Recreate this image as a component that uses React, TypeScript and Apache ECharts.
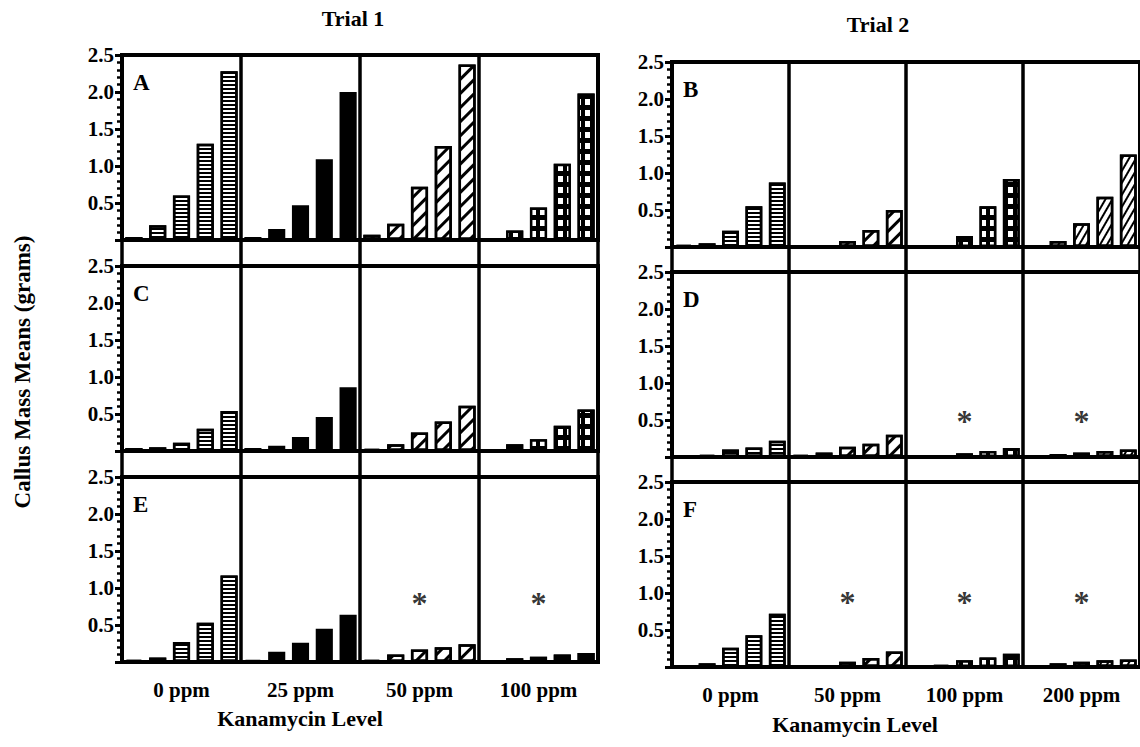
import React, { useEffect, useRef } from 'react';
import * as echarts from 'echarts';

// ---- data ----
const trial1Levels = ['0 ppm', '25 ppm', '50 ppm', '100 ppm'];
const trial2Levels = ['0 ppm', '50 ppm', '100 ppm', '200 ppm'];
const panelLetters = ['A', 'B', 'C', 'D', 'E', 'F'];

// 5 bars per kanamycin level, 4 levels per panel
const panelA = [0.04, 0.2, 0.6, 1.3, 2.28, 0.04, 0.15, 0.47, 1.09, 2.0, 0.07, 0.22, 0.72, 1.27, 2.37, 0.02, 0.13, 0.44, 1.03, 1.98];
const panelB = [0.03, 0.05, 0.22, 0.55, 0.87, 0.01, 0.02, 0.08, 0.23, 0.5, 0.01, 0.02, 0.15, 0.55, 0.92, 0.02, 0.08, 0.32, 0.68, 1.25];
const panelC = [0.04, 0.05, 0.11, 0.3, 0.54, 0.04, 0.07, 0.19, 0.46, 0.86, 0.03, 0.09, 0.25, 0.4, 0.61, 0.02, 0.09, 0.16, 0.34, 0.56];
const panelD = [0.01, 0.03, 0.1, 0.13, 0.22, 0.03, 0.06, 0.14, 0.18, 0.3, 0.01, 0.02, 0.05, 0.08, 0.12, 0.01, 0.04, 0.06, 0.08, 0.1];
const panelE = [0.03, 0.06, 0.27, 0.53, 1.17, 0.03, 0.14, 0.26, 0.45, 0.64, 0.03, 0.1, 0.17, 0.2, 0.24, 0.01, 0.05, 0.07, 0.1, 0.12];
const panelF = [0.01, 0.05, 0.26, 0.43, 0.72, 0.01, 0.02, 0.07, 0.12, 0.21, 0.01, 0.03, 0.09, 0.13, 0.18, 0.02, 0.05, 0.07, 0.09, 0.1];

// asterisks: level index and height
const starsD = [2, 3];
const starHeightD = 0.48;
const starsE = [2, 3];
const starHeightE = 0.8;
const starsF = [1, 2, 3];
const starHeightF = 0.88;

type Pat = 'stripes' | 'solid' | 'hatch' | 'checker' | 'hatch2';
const trial1Patterns: Pat[] = ['stripes', 'solid', 'hatch', 'checker'];
const trial2Patterns: Pat[] = ['stripes', 'hatch', 'checker', 'hatch2'];

const FONT = '"Liberation Serif", "Times New Roman", serif';

function itemStyleFor(p: Pat): any {
  const base = { borderColor: '#000', borderWidth: 2.5 };
  switch (p) {
    case 'stripes':
      return { ...base, color: '#fff', decal: { symbol: 'rect', symbolSize: 1, color: '#000', dashArrayX: [1, 0], dashArrayY: [2, 2], rotation: 0 } };
    case 'solid':
      return { ...base, color: '#000' };
    case 'hatch':
      return { ...base, color: '#fff', decal: { symbol: 'rect', symbolSize: 1, color: '#000', dashArrayX: [1, 0], dashArrayY: [3, 7], rotation: -Math.PI / 4 } };
    case 'checker':
      return { ...base, color: '#000', decal: { symbol: 'rect', symbolSize: 1, color: '#fff', dashArrayX: [5, 4], dashArrayY: [6, 5], rotation: 0 } };
    case 'hatch2':
      return { ...base, color: '#fff', decal: { symbol: 'rect', symbolSize: 1, color: '#000', dashArrayX: [1, 0], dashArrayY: [2, 4], rotation: -Math.PI / 3 } };
  }
}

function cats(levels: string[]) {
  const out: string[] = [];
  levels.forEach((l) => {
    for (let i = 0; i < 5; i++) out.push(l + '|' + i);
  });
  return out;
}

export default function App() {
  const ref = useRef<HTMLDivElement>(null);
  useEffect(() => {
    document.documentElement.style.overflow = 'hidden';
    document.body.style.overflow = 'hidden';
    const chart = echarts.init(ref.current!, null, { renderer: 'svg' });

    const LEFT = { left: 122, width: 476 };
    const RIGHT = { left: 672, width: 474 };
    const H = 185;
    const panels = [
      { data: panelA, trial: 1, top: 55, bottom: false, stars: [] as number[], starH: 0 },
      { data: panelB, trial: 2, top: 62, bottom: false, stars: [] as number[], starH: 0 },
      { data: panelC, trial: 1, top: 266, bottom: false, stars: [] as number[], starH: 0 },
      { data: panelD, trial: 2, top: 272, bottom: false, stars: starsD, starH: starHeightD },
      { data: panelE, trial: 1, top: 477, bottom: true, stars: starsE, starH: starHeightE },
      { data: panelF, trial: 2, top: 482, bottom: true, stars: starsF, starH: starHeightF },
    ];

    const grid: any[] = [];
    const xAxis: any[] = [];
    const yAxis: any[] = [];
    const series: any[] = [];
    const graphic: any[] = [];

    panels.forEach((p, i) => {
      const pos = p.trial === 1 ? LEFT : RIGHT;
      const levels = p.trial === 1 ? trial1Levels : trial2Levels;
      const pats = p.trial === 1 ? trial1Patterns : trial2Patterns;
      grid.push({ left: pos.left, width: pos.width, top: p.top, height: H, show: true, borderColor: '#000', borderWidth: 4, backgroundColor: 'transparent' });
      xAxis.push({
        gridIndex: i,
        type: 'category',
        data: cats(levels),
        boundaryGap: true,
        axisLine: { show: true, lineStyle: { color: '#000', width: 4 } },
        axisTick: { show: false },
        splitLine: { show: false },
        axisLabel: p.bottom
          ? {
              show: true,
              interval: (idx: number) => idx % 5 === 2,
              formatter: (v: string) => v.split('|')[0],
              fontFamily: FONT,
              fontWeight: 'bold',
              fontSize: 21,
              color: '#000',
              margin: 17,
            }
          : { show: false },
      });
      yAxis.push({
        gridIndex: i,
        type: 'value',
        position: 'left',
        min: 0,
        max: 2.5,
        interval: 0.5,
        axisLine: { show: true, lineStyle: { color: '#000', width: 4 } },
        axisTick: { show: true, inside: false, length: 7, lineStyle: { color: '#000', width: 3 } },
        minorTick: { show: true, splitNumber: 5, length: 5, lineStyle: { color: '#000', width: 2.5 } },
        splitLine: { show: false },
        axisLabel: {
          formatter: (v: number) => (v === 0 ? '' : v.toFixed(1)),
          fontFamily: FONT,
          fontWeight: 'bold',
          fontSize: 21,
          color: '#000',
          margin: 8,
        },
      });
      series.push({
        type: 'bar',
        xAxisIndex: i,
        yAxisIndex: i,
        barWidth: '72%',
        data: p.data.map((v, idx) => ({ value: v, itemStyle: itemStyleFor(pats[Math.floor(idx / 5)]) })),
      });
      if (p.stars.length) {
        series.push({
          type: 'scatter',
          xAxisIndex: i,
          yAxisIndex: i,
          symbolSize: 1,
          itemStyle: { color: 'rgba(0,0,0,0)' },
          label: { show: true, position: 'inside', formatter: '*', fontFamily: FONT, fontWeight: 'bold', fontSize: 32, color: '#000' },
          data: p.stars.map((s) => [s * 5 + 2, p.starH]),
          z: 5,
        });
      }
      graphic.push({
        type: 'text',
        x: pos.left + 11,
        y: p.top + 27,
        style: { text: panelLetters[i], font: 'bold 23px ' + FONT, fill: '#000', textAlign: 'left', textVerticalAlign: 'middle' },
      });
    });

    // background grids for the continuous level dividers
    [
      { pos: LEFT, top: 55, bottom: 477 + H, levels: trial1Levels },
      { pos: RIGHT, top: 62, bottom: 482 + H, levels: trial2Levels },
    ].forEach((b) => {
      const gi = grid.length;
      grid.push({ left: b.pos.left, width: b.pos.width, top: b.top, height: b.bottom - b.top, show: false });
      xAxis.push({
        gridIndex: gi,
        type: 'category',
        data: cats(b.levels),
        boundaryGap: true,
        axisLine: { show: false },
        axisTick: { show: false },
        axisLabel: { show: false },
        splitLine: { show: true, interval: 4, lineStyle: { color: '#000', width: 3.5 } },
      });
      yAxis.push({ gridIndex: gi, type: 'value', show: false, min: 0, max: 1 });
    });

    graphic.push(
      { type: 'text', x: 353, y: 18, style: { text: 'Trial 1', font: 'bold 22px ' + FONT, fill: '#000', textAlign: 'center', textVerticalAlign: 'middle' } },
      { type: 'text', x: 878, y: 24, style: { text: 'Trial 2', font: 'bold 22px ' + FONT, fill: '#000', textAlign: 'center', textVerticalAlign: 'middle' } },
      { type: 'text', x: 22, y: 372, rotation: Math.PI / 2, style: { text: 'Callus Mass Means (grams)', font: 'bold 23px ' + FONT, fill: '#000', textAlign: 'center', textVerticalAlign: 'middle' } },
      { type: 'text', x: 300, y: 718, style: { text: 'Kanamycin Level', font: 'bold 22px ' + FONT, fill: '#000', textAlign: 'center', textVerticalAlign: 'middle' } },
      { type: 'text', x: 855, y: 724, style: { text: 'Kanamycin Level', font: 'bold 22px ' + FONT, fill: '#000', textAlign: 'center', textVerticalAlign: 'middle' } }
    );

    chart.setOption({
      animation: false,
      backgroundColor: '#fff',
      grid,
      xAxis,
      yAxis,
      series,
      graphic,
    });
    return () => chart.dispose();
  }, []);
  return <div ref={ref} style={{ position: 'fixed', left: 0, top: 0, width: 1140, height: 747 }} />;
}
